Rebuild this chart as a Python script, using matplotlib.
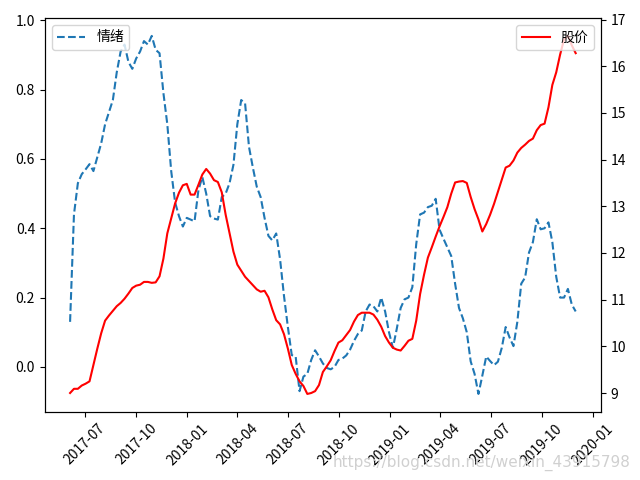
import pandas as pd
import matplotlib
matplotlib.use("Agg")
import matplotlib.pyplot as plt
import matplotlib.dates as mdates

plt.rcParams['font.family'] = ['Noto Sans CJK SC', 'DejaVu Sans']
plt.rcParams['axes.unicode_minus'] = False

# weekly samples, 2017-06-04 .. 2019-12-01
dates = pd.date_range('2017-06-04', periods=131, freq='7D')

# 情绪 (left axis)
mood = [
    0.13, 0.44, 0.53, 0.556, 0.57, 0.585, 0.565, 0.605, 0.645, 0.70,
    0.735, 0.77, 0.85, 0.91, 0.93, 0.88, 0.86, 0.89, 0.91, 0.94,
    0.93, 0.955, 0.915, 0.905, 0.79, 0.70, 0.565, 0.475, 0.435, 0.405,
    0.43, 0.425, 0.42, 0.51, 0.548, 0.50, 0.435, 0.428, 0.425, 0.49,
    0.50, 0.53, 0.583, 0.70, 0.77, 0.76, 0.635, 0.575, 0.52, 0.49,
    0.43, 0.378, 0.365, 0.385, 0.31, 0.205, 0.115, 0.034, 0.03, -0.07,
    -0.028, -0.02, 0.02, 0.048, 0.03, 0.01, -0.003, -0.007, 0.0, 0.02,
    0.024, 0.033, 0.05, 0.075, 0.095, 0.105, 0.16, 0.18, 0.175, 0.16,
    0.20, 0.16, 0.10, 0.055, 0.11, 0.17, 0.195, 0.20, 0.23, 0.354,
    0.44, 0.445, 0.461, 0.465, 0.485, 0.396, 0.37, 0.345, 0.32, 0.24,
    0.17, 0.14, 0.10, 0.016, -0.02, -0.078, -0.025, 0.03, 0.017, 0.005,
    0.015, 0.055, 0.115, 0.085, 0.06, 0.13, 0.24, 0.258, 0.33, 0.36,
    0.426, 0.397, 0.40, 0.417, 0.36, 0.26, 0.20, 0.20, 0.225, 0.18,
    0.16,
]

# 股价 (right axis)
price = [
    9.0, 9.09, 9.09, 9.16, 9.2, 9.25, 9.6, 9.95, 10.28, 10.55,
    10.66, 10.76, 10.86, 10.93, 11.02, 11.13, 11.25, 11.3, 11.32, 11.38,
    11.38, 11.36, 11.37, 11.5, 11.88, 12.42, 12.74, 13.06, 13.29, 13.45,
    13.48, 13.25, 13.25, 13.46, 13.68, 13.8, 13.7, 13.56, 13.52, 13.3,
    12.82, 12.42, 12.03, 11.75, 11.62, 11.49, 11.4, 11.31, 11.22, 11.17,
    11.19, 11.05, 10.79, 10.56, 10.47, 10.26, 9.95, 9.6, 9.41, 9.25,
    9.15, 8.98, 9.0, 9.04, 9.17, 9.45, 9.57, 9.7, 9.9, 10.08,
    10.13, 10.24, 10.35, 10.53, 10.67, 10.72, 10.72, 10.72, 10.68, 10.57,
    10.42, 10.22, 10.08, 9.97, 9.93, 9.91, 10.01, 10.12, 10.16, 10.55,
    11.12, 11.53, 11.9, 12.12, 12.35, 12.57, 12.77, 12.98, 13.27, 13.51,
    13.53, 13.54, 13.5, 13.2, 12.94, 12.72, 12.46, 12.62, 12.82, 13.05,
    13.31, 13.57, 13.83, 13.87, 13.98, 14.15, 14.25, 14.32, 14.4, 14.45,
    14.63, 14.74, 14.77, 15.12, 15.6, 15.87, 16.25, 16.57, 16.65, 16.45,
    16.28,
]

fig, ax1 = plt.subplots(figsize=(6.4, 4.8), dpi=100)
fig.subplots_adjust(left=0.070, right=0.939, top=0.9625, bottom=0.142)

ax1.plot(dates, mood, '--', color='#1f77b4', label='情绪')
ax1.legend(loc='upper left')

ax2 = ax1.twinx()
ax2.plot(dates, price, '-', color='red', label='股价')
ax2.legend(loc='upper right')

ax1.xaxis.set_major_locator(mdates.MonthLocator(bymonth=[1, 4, 7, 10]))
ax1.xaxis.set_major_formatter(mdates.DateFormatter('%Y-%m'))
for lbl in ax1.get_xticklabels():
    lbl.set_rotation(45)

fig.text(0.985, 0.035, 'https://blog.csdn.net/weixin_43915798', ha='right',
         va='center', color='#d0d0d0', fontsize=11, family='DejaVu Sans')

fig.savefig('out.png')
